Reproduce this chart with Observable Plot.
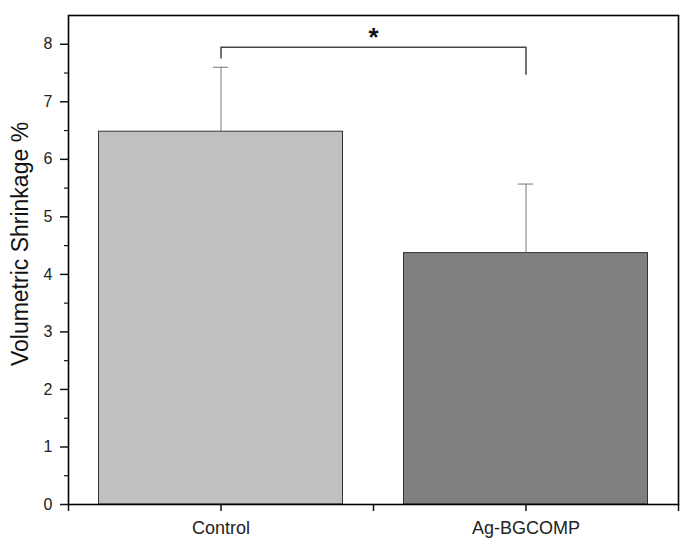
<!DOCTYPE html>
<html>
<head>
<meta charset="utf-8">
<script src="https://cdn.jsdelivr.net/npm/d3@7"></script>
<script src="https://cdn.jsdelivr.net/npm/@observablehq/plot@0.6"></script>
<style>
  html, body { margin: 0; padding: 0; background: #fff; }
  svg { font-family: "Liberation Sans", Arial, sans-serif; }
</style>
</head>
<body>
<div id="chart"></div>
<script>
const categories = ["Control", "Ag-BGCOMP"];
const values = [6.48, 4.37];
const errors = [1.12, 1.20];
const fills = ["#c0c0c0", "#808080"];
const yMajorTicks = [0, 1, 2, 3, 4, 5, 6, 7, 8];
const yMinorTicks = [0.5, 1.5, 2.5, 3.5, 4.5, 5.5, 6.5, 7.5];
const bracketX = [1, 1, 2, 2];
const bracketY = [7.76, 7.95, 7.95, 7.48];
const sigLabel = "*";
const yTitle = "Volumetric Shrinkage %";

const data = categories.map((c, i) => ({c, pos: i + 1, v: values[i], e: errors[i], fill: fills[i]}));
const bracket = bracketX.map((x, i) => ({x, y: bracketY[i]}));

const chart = Plot.plot({
  width: 686,
  height: 544,
  marginLeft: 68,
  marginRight: 8,
  marginTop: 15,
  marginBottom: 40,
  style: {fontFamily: '"Liberation Sans", Arial, sans-serif', background: "#fff"},
  x: {domain: [0.5, 2.5]},
  y: {domain: [0, 8.5]},
  marks: [
    Plot.rectY(data, {x1: d => d.pos - 0.4, x2: d => d.pos + 0.4, y1: 0, y2: "v", fill: "fill", stroke: "#333", strokeWidth: 1}),
    Plot.ruleX(data, {x: "pos", y1: "v", y2: d => d.v + d.e, stroke: "#777", strokeWidth: 1}),
    Plot.ruleY(data, {y: d => d.v + d.e, x1: d => d.pos - 0.025, x2: d => d.pos + 0.025, stroke: "#777", strokeWidth: 1}),
    Plot.line(bracket, {x: "x", y: "y", stroke: "#444", strokeWidth: 1.5}),
    Plot.text([sigLabel], {x: 1.5, y: 8.12, text: d => d, fontSize: 26, fontWeight: "bold", fill: "#111"}),
    Plot.frame({stroke: "#000", strokeWidth: 1.6}),
    Plot.axisY({ticks: yMajorTicks, tickSize: 8, tickPadding: 8, fontSize: 16, stroke: "#111", fill: "#222", strokeWidth: 1.5, label: null}),
    Plot.axisY({ticks: yMinorTicks, tickSize: 4, tickFormat: () => "", label: null, stroke: "#111", strokeWidth: 1.2}),
    Plot.axisX({ticks: [0.5, 1, 1.5, 2, 2.5], tickSize: 7, tickPadding: 10, fontSize: 18, fill: "#222", stroke: "#111", strokeWidth: 1.5,
      tickFormat: d => Number.isInteger(d) ? categories[d - 1] : "", label: null}),
    Plot.text([yTitle], {frameAnchor: "left", textAnchor: "middle", text: d => d, rotate: -90, dx: -48, dy: -16, fontSize: 23, fill: "#111"})
  ]
});
document.getElementById("chart").appendChild(chart);
</script>
</body>
</html>
